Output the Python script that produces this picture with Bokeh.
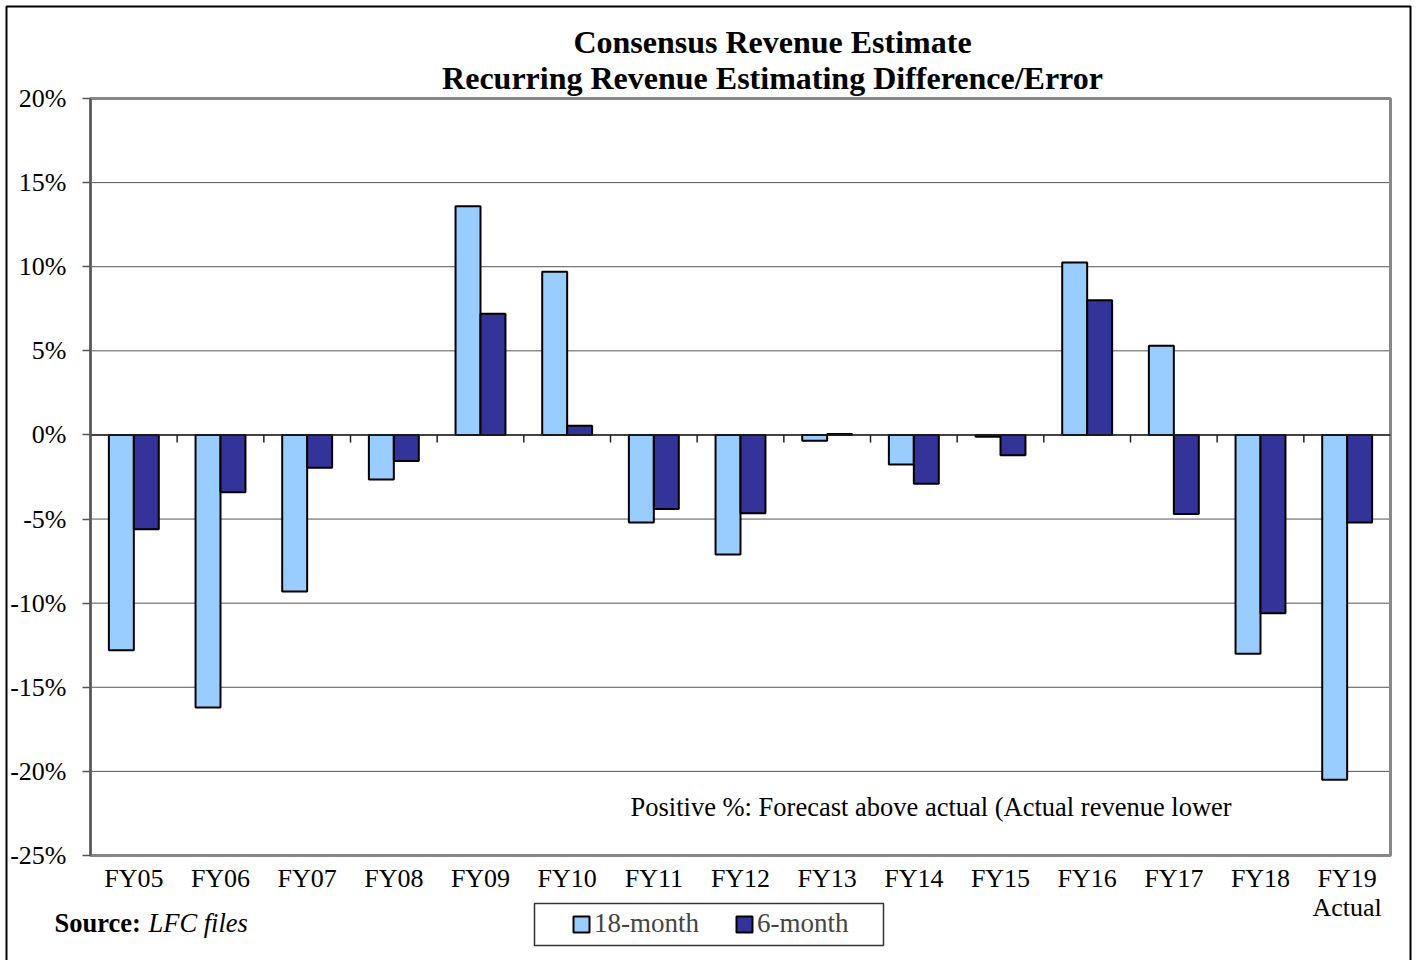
import numpy as np
from bokeh.plotting import figure
from bokeh.models import (Range1d, FixedTicker, Label, Legend, LegendItem,
                          BoxAnnotation, ColumnDataSource, LinearAxis)
from bokeh.embed import file_html
from bokeh.resources import INLINE

categories = ["FY05", "FY06", "FY07", "FY08", "FY09", "FY10", "FY11", "FY12",
              "FY13", "FY14", "FY15", "FY16", "FY17", "FY18", "FY19\nActual"]
m18 = [-12.8, -16.2, -9.3, -2.65, 13.6, 9.7, -5.2, -7.1, -0.35, -1.75, -0.1, 10.25, 5.3, -13.0, -20.5]
m6 = [-5.6, -3.4, -1.95, -1.55, 7.2, 0.55, -4.4, -4.65, 0.05, -2.9, -1.2, 8.0, -4.7, -10.6, -5.2]
y_ticks = [20, 15, 10, 5, 0, -5, -10, -15, -20, -25]
series_names = ["18-month", "6-month"]
colors = ["#99CCFF", "#333399"]

FONT = "Liberation Serif"
W, H = 1414, 960
# plot-area placement in canvas pixels
PL, PR, PT, PB = 90, 1390, 98, 855
n = len(categories)
ymax, ymin = max(y_ticks), min(y_ticks)
xs = (PR - PL) / n
ys = (PB - PT) / (ymax - ymin)
x_range = Range1d(-PL / xs, (W - PL) / xs)
y_range = Range1d(ymin - (H - PB) / ys, ymax + PT / ys)

p = figure(width=W, height=H, output_backend="svg", toolbar_location=None,
           x_range=x_range, y_range=y_range, x_axis_location=None, y_axis_location=None,
           min_border=0)
p.outline_line_color = None
p.background_fill_color = "white"
p.border_fill_color = "white"
p.grid.visible = False

idx = np.arange(n)
bw = 0.288

# horizontal grid lines
p.segment(x0=np.zeros(len(y_ticks)), x1=np.full(len(y_ticks), n), y0=y_ticks, y1=y_ticks,
          line_color="#555555", line_width=1)
# plot-area frame
p.quad(left=[0], right=[n], bottom=[ymin], top=[ymax], fill_color=None,
       line_color="#888888", line_width=3)

src = ColumnDataSource(dict(x18=idx + 0.5 - bw / 2, x6=idx + 0.5 + bw / 2, m18=m18, m6=m6))
r18 = p.vbar(x="x18", top="m18", bottom=0, width=bw, source=src,
             fill_color=colors[0], line_color="black", line_width=2)
r6 = p.vbar(x="x6", top="m6", bottom=0, width=bw, source=src,
            fill_color=colors[1], line_color="black", line_width=2)

# zero line with category-boundary ticks
p.segment(x0=[0], x1=[n], y0=[0], y1=[0], line_color="#222222", line_width=1.5)
bounds = np.arange(1, n)
p.segment(x0=bounds, x1=bounds, y0=np.zeros(n - 1), y1=np.full(n - 1, -0.45),
          line_color="#222222", line_width=1.5)

# axes
yaxis = LinearAxis(fixed_location=0, bounds=(ymin, ymax), ticker=FixedTicker(ticks=y_ticks))
yaxis.major_label_overrides = {t: f"{t}%" for t in y_ticks}
yaxis.major_label_text_font = FONT
yaxis.major_label_text_font_size = "26px"
yaxis.major_label_text_color = "black"
yaxis.axis_line_color = "#555555"
yaxis.axis_line_width = 2
yaxis.major_tick_line_color = "#555555"
yaxis.major_tick_line_width = 1.5
yaxis.major_tick_out = 8
yaxis.major_tick_in = 0
yaxis.minor_tick_line_color = None
yaxis.major_label_standoff = 16
p.add_layout(yaxis, "left")

xt = [i + 0.5 for i in range(n)]
xaxis = LinearAxis(fixed_location=ymin, bounds=(0, n), ticker=FixedTicker(ticks=xt))
xaxis.major_label_overrides = {t: c for t, c in zip(xt, categories)}
xaxis.major_label_text_font = FONT
xaxis.major_label_text_font_size = "26px"
xaxis.major_label_text_line_height = 1.0
xaxis.major_label_text_color = "black"
xaxis.axis_line_color = "#888888"
xaxis.axis_line_width = 2
xaxis.major_tick_line_color = None
xaxis.minor_tick_line_color = None
xaxis.major_label_standoff = 2
p.add_layout(xaxis, "below")

# titles
for txt, yy in [("Consensus Revenue Estimate", 41), ("Recurring Revenue Estimating Difference/Error", 77)]:
    p.add_layout(Label(x=772, y=H - yy, x_units="screen", y_units="screen", text=txt,
                       text_font=FONT, text_font_size="32px", text_font_style="bold",
                       text_align="center", text_baseline="middle", text_color="black"))

# note
p.add_layout(Label(x=630, y=H - 806, x_units="screen", y_units="screen",
                   text="Positive %: Forecast above actual (Actual revenue lower",
                   text_font=FONT, text_font_size="26.5px", text_align="left",
                   text_baseline="middle", text_color="black"))

# source
p.add_layout(Label(x=54, y=H - 922, x_units="screen", y_units="screen", text="Source:",
                   text_font=FONT, text_font_size="26.5px", text_font_style="bold",
                   text_align="left", text_baseline="middle", text_color="black"))
p.add_layout(Label(x=148, y=H - 922, x_units="screen", y_units="screen", text="LFC files",
                   text_font=FONT, text_font_size="26.5px", text_font_style="italic",
                   text_align="left", text_baseline="middle", text_color="black"))

# legend box
p.add_layout(BoxAnnotation(left=534, right=883, bottom=H - 945, top=H - 903,
                           left_units="screen", right_units="screen",
                           bottom_units="screen", top_units="screen",
                           fill_color="white", fill_alpha=1,
                           line_color="#333333", line_alpha=1, line_width=1.5,
                           level="annotation"))
legend = Legend(items=[LegendItem(label=series_names[0], renderers=[r18]),
                       LegendItem(label=series_names[1], renderers=[r6])],
                orientation="horizontal", location=(571, H - 939),
                border_line_color=None, background_fill_alpha=0,
                label_text_font=FONT, label_text_font_size="27px",
                glyph_width=20, glyph_height=20, label_standoff=3, spacing=35,
                padding=4, margin=0)
p.add_layout(legend)

# outer border
p.add_layout(BoxAnnotation(left=6, right=1410, bottom=-5, top=H - 6,
                           left_units="screen", right_units="screen",
                           bottom_units="screen", top_units="screen",
                           fill_alpha=0, line_color="black", line_alpha=1, line_width=2))

open("out.html", "w").write(file_html(p, INLINE))
